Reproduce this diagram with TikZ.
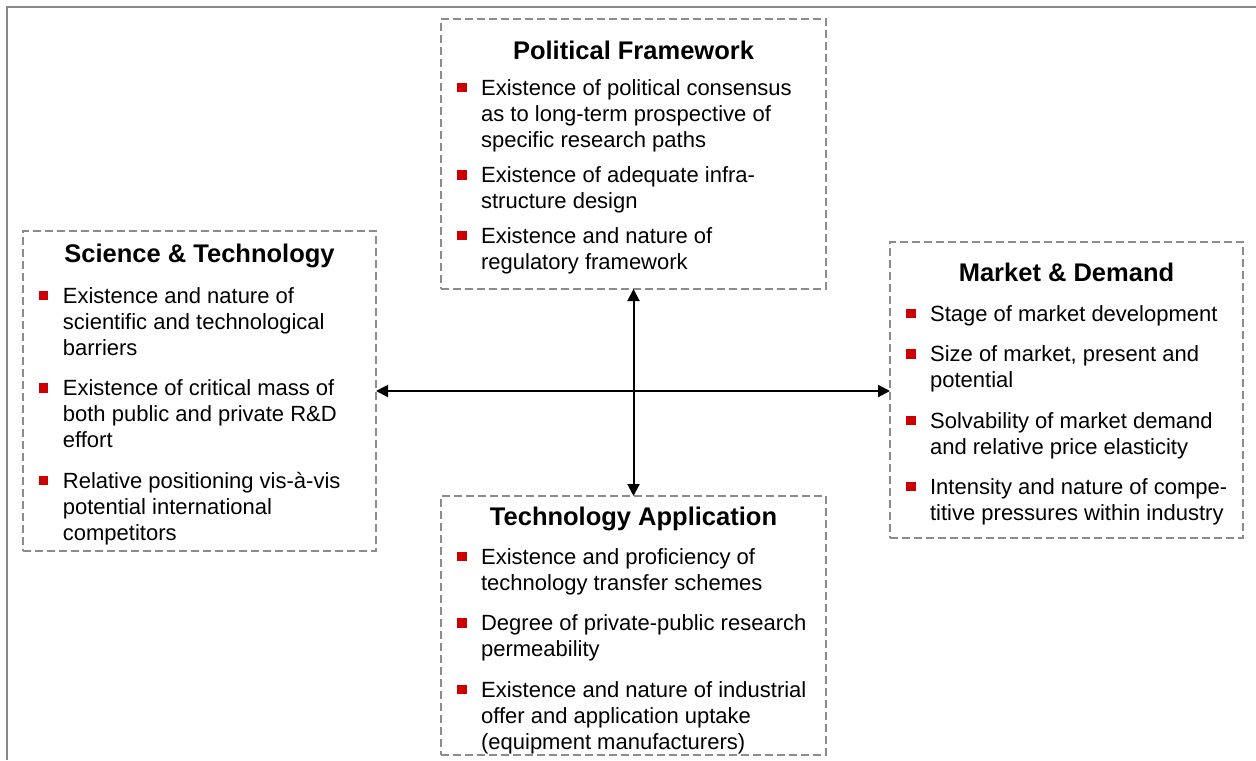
\documentclass[tikz,border=0pt]{standalone}
\usepackage{fontspec}
\setmainfont{Liberation Sans}
\usetikzlibrary{positioning,arrows.meta}

\definecolor{framegray}{HTML}{8A8A8A}
\definecolor{boxgray}{HTML}{8C8C8C}
\definecolor{bulletred}{HTML}{CC0000}

% red square bullet followed by the (hand-broken) lines of one point
\newcommand{\redsq}{\textcolor{bulletred}{\rule[1.5pt]{4.7pt}{4.7pt}}}
\newcommand{\point}[1]{\makebox[12pt][l]{\redsq}\parbox[t]{172pt}{\raggedright\strut#1\strut}}

\begin{document}
\begin{tikzpicture}[x=0.5pt, y=-0.5pt,
    area/.style={draw=boxgray, line width=1pt, dash pattern=on 3.8pt off 2.2pt, inner sep=0pt, outer sep=0pt},
    heading/.style={font=\fontsize{12.75}{15}\selectfont\bfseries, inner sep=0pt, anchor=base},
    pointnode/.style={font=\fontsize{11}{13}\selectfont, inner sep=0pt, anchor=north west},
    link/.style={{Triangle[length=6pt,width=6pt]}-{Triangle[length=6pt,width=6pt]}, line width=1pt}]
    \useasboundingbox (0,0) rectangle (1256,760);

    % open frame: left and top edges only
    \draw[framegray, line width=1pt] (7.3,760) -- (7.3,7.3) -- (1256,7.3);

    % the four dashed areas
    \node[area, minimum width=192.5pt, minimum height=135pt] (pol) at (633.5,154) {};
    \node[area, minimum width=176.5pt, minimum height=160pt] (sci) at (199.5,391) {};
    \node[area, minimum width=176.5pt, minimum height=148pt] (mkt) at (1066.5,390) {};
    \node[area, minimum width=192.5pt, minimum height=129.5pt] (app) at (633.5,625.5) {};

    % headings
    \node[heading] (polH) at (633.5,59) {Political Framework};
    \node[heading] (sciH) at (199.5,262) {Science \& Technology};
    \node[heading] (mktH) at (1066.5,281) {Market \& Demand};
    \node[heading] (appH) at (633.5,525) {Technology Application};

    % Political Framework
    \node[pointnode] (pol1) at (456.7,76.8) {\point{Existence of political consensus\\as to long-term prospective of\\specific research paths}};
    \node[pointnode, below=4.25pt of pol1.south west, anchor=north west] (pol2) {\point{Existence of adequate infra-\\structure design}};
    \node[pointnode, below=3.75pt of pol2.south west, anchor=north west] (pol3) {\point{Existence and nature of\\regulatory framework}};

    % Science & Technology
    \node[pointnode] (sci1) at (38.5,284.8) {\point{Existence and nature of\\scientific and technological\\barriers}};
    \node[pointnode, below=6.75pt of sci1.south west, anchor=north west] (sci2) {\point{Existence of critical mass of\\both public and private R\&D\\effort}};
    \node[pointnode, below=6.75pt of sci2.south west, anchor=north west] (sci3) {\point{Relative positioning vis-à-vis\\potential international\\competitors}};

    % Market & Demand
    \node[pointnode] (mkt1) at (905.7,302.8) {\point{Stage of market development}};
    \node[pointnode, below=6.75pt of mkt1.south west, anchor=north west] (mkt2) {\point{Size of market, present and\\potential}};
    \node[pointnode, below=6.75pt of mkt2.south west, anchor=north west] (mkt3) {\point{Solvability of market demand\\and relative price elasticity}};
    \node[pointnode, below=6.75pt of mkt3.south west, anchor=north west] (mkt4) {\point{Intensity and nature of compe-\\titive pressures within industry}};

    % Technology Application
    \node[pointnode] (app1) at (456.7,545.8) {\point{Existence and proficiency of\\technology transfer schemes}};
    \node[pointnode, below=6.75pt of app1.south west, anchor=north west] (app2) {\point{Degree of private-public research\\permeability}};
    \node[pointnode, below=6.75pt of app2.south west, anchor=north west] (app3) {\point{Existence and nature of industrial\\offer and application uptake\\(equipment manufacturers)}};

    % two-way links across the middle
    \draw[link] (sci.east) -- (mkt.west |- sci.east);
    \draw[link] (pol.south) -- (app.north);
\end{tikzpicture}
\end{document}
